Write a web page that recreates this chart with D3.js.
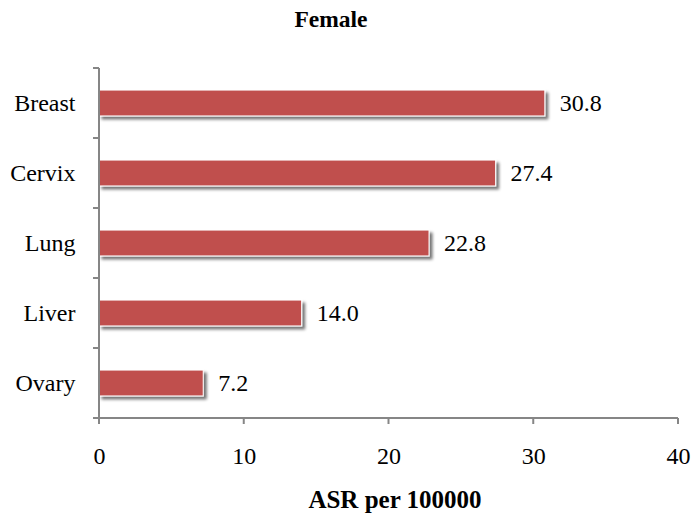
<!DOCTYPE html>
<html><head><meta charset="utf-8">
<script src="https://cdn.jsdelivr.net/npm/d3@7"></script>
<style>body{margin:0;background:#fff}svg{display:block}</style>
</head><body>
<svg id="c" width="693" height="520"></svg>
<script>
const categories = ["Breast", "Cervix", "Lung", "Liver", "Ovary"];
const values = [30.8, 27.4, 22.8, 14.0, 7.2];
const xTicks = [0, 10, 20, 30, 40];
const title = "Female";
const xTitle = "ASR per 100000";

(function () {
const svg = d3.select("#c");
const font = "'Liberation Serif','Times New Roman',serif";
const pL = 99, pR = 678, pT = 68, pB = 418;

const x = d3.scaleLinear().domain([0, 40]).range([pL, pR]);
const y = d3.scaleBand().domain(categories).range([pT, pB]).paddingInner(0.63).paddingOuter(0.315);
const yb = d3.scaleBand().domain(categories).range([pT, pB]);

const defs = svg.append("defs");
const f = defs.append("filter").attr("id", "sh").attr("x", "-5%").attr("y", "-30%").attr("width", "115%").attr("height", "180%");
f.append("feGaussianBlur").attr("in", "SourceAlpha").attr("stdDeviation", 1.6).attr("result", "b");
f.append("feOffset").attr("in", "b").attr("dx", 2.5).attr("dy", 3).attr("result", "o");
f.append("feComponentTransfer").attr("in", "o").attr("result", "o2")
  .append("feFuncA").attr("type", "linear").attr("slope", 0.55);
const m = f.append("feMerge");
m.append("feMergeNode").attr("in", "o2");
m.append("feMergeNode").attr("in", "SourceGraphic");

svg.append("text").attr("x", 331).attr("y", 27).attr("text-anchor", "middle")
  .attr("font-family", font).attr("font-weight", "bold").attr("font-size", 23.5).text(title);

svg.append("g").selectAll("rect").data(categories).join("rect")
  .attr("x", x(0)).attr("y", d => y(d))
  .attr("width", (d, i) => x(values[i]) - x(0)).attr("height", y.bandwidth())
  .attr("fill", "#C0504D").attr("stroke", "#fff").attr("stroke-width", 1)
  .attr("filter", "url(#sh)");

svg.append("g").selectAll("text").data(categories).join("text")
  .attr("x", (d, i) => x(values[i]) + 15).attr("y", d => y(d) + y.bandwidth() / 2)
  .attr("dy", "0.35em").attr("font-family", font).attr("font-size", 24).attr("fill", "#000")
  .text((d, i) => values[i].toFixed(1));

const gy = svg.append("g").attr("transform", `translate(${pL},0)`)
  .call(d3.axisLeft(yb).tickSize(0).tickPadding(23.5));
gy.select(".domain").remove();
gy.selectAll("text").attr("font-family", font).attr("font-size", 24).attr("fill", "#000");
const ax = svg.append("g").attr("stroke", "#868686").attr("stroke-width", 2);
ax.append("line").attr("x1", pL).attr("x2", pL).attr("y1", pT).attr("y2", pB);
const bounds = categories.map(c => yb(c)).concat([pB]);
ax.selectAll(".yt").data(bounds).join("line").attr("class", "yt")
  .attr("x1", pL - 6).attr("x2", pL).attr("y1", d => d).attr("y2", d => d);

const gx = svg.append("g").attr("transform", `translate(0,${pB})`)
  .call(d3.axisBottom(x).tickValues(xTicks).tickSize(0).tickPadding(29).tickFormat(d3.format("d")));
gx.select(".domain").remove();
gx.selectAll("text").attr("font-family", font).attr("font-size", 24).attr("fill", "#000");
ax.append("line").attr("x1", pL).attr("x2", pR).attr("y1", pB).attr("y2", pB);
ax.selectAll(".xt").data(xTicks).join("line").attr("class", "xt")
  .attr("x1", d => x(d)).attr("x2", d => x(d)).attr("y1", pB).attr("y2", pB + 6);

svg.append("text").attr("x", 395).attr("y", 508).attr("text-anchor", "middle")
  .attr("font-family", font).attr("font-weight", "bold").attr("font-size", 25).text(xTitle);
})();
</script>
</body></html>
